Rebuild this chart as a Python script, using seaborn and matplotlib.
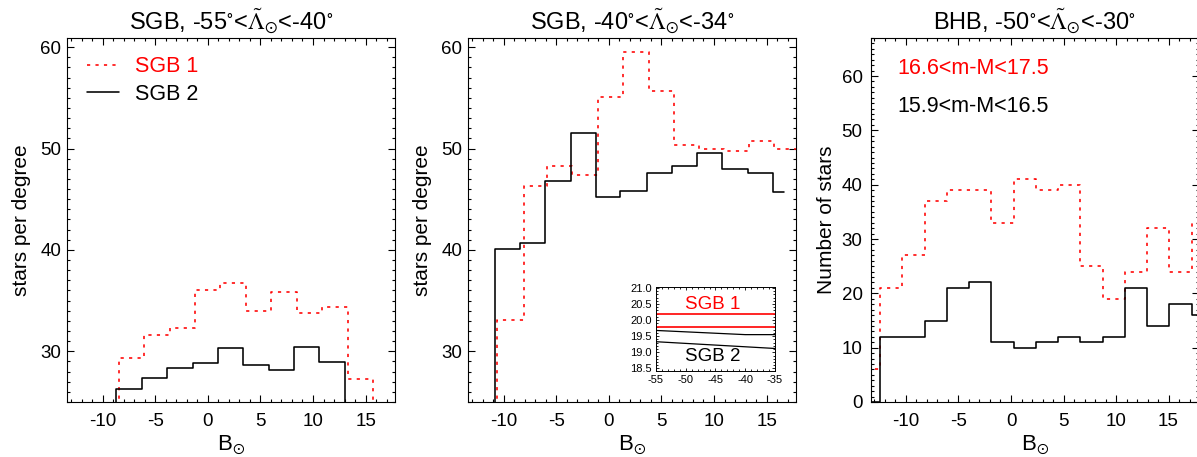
import numpy as np
import pandas as pd
import matplotlib
matplotlib.use('Agg')
import matplotlib.pyplot as plt
from matplotlib.ticker import MultipleLocator
import seaborn as sns

sns.set_theme(style='ticks')
plt.rcParams['font.family'] = ['Liberation Sans', 'DejaVu Sans']
plt.rcParams['mathtext.fontset'] = 'stix'
plt.rcParams['axes.unicode_minus'] = False
plt.rcParams['text.color'] = 'black'
plt.rcParams['axes.labelcolor'] = 'black'
plt.rcParams['xtick.color'] = 'black'
plt.rcParams['ytick.color'] = 'black'

# panel 1: SGB, -55 < Lambda < -40  (histogram edges / values incl. out-of-range neighbours)
p1_black_edges = [-11.1, -8.7, -6.25, -3.85, -1.45, 0.95, 3.35, 5.8, 8.2, 10.6, 13.05, 15.45]
p1_black_vals = [0, 26.3, 27.4, 28.4, 28.8, 30.3, 28.6, 28.2, 30.4, 28.9, 0]
p1_red_edges = [-10.9, -8.5, -6.05, -3.65, -1.2, 1.2, 3.65, 6.05, 8.5, 10.9, 13.35, 15.75, 18.2]
p1_red_vals = [0, 29.3, 31.6, 32.3, 36.0, 36.7, 34.0, 35.8, 33.8, 34.4, 27.3, 0]

# panel 2: SGB, -40 < Lambda < -34
p2_black_edges = [-13.3, -10.86, -8.45, -6.1, -3.6, -1.2, 1.1, 3.6, 6.0, 8.4, 10.8, 13.2, 15.6, 16.7]
p2_black_vals = [0, 40.1, 40.7, 46.8, 51.5, 45.2, 45.8, 47.6, 48.3, 49.6, 48.0, 47.6, 45.7]
p2_red_edges = [-13.0, -10.6, -8.1, -5.84, -3.46, -1.01, 1.37, 3.84, 6.22, 8.6, 10.98, 13.36, 15.75, 18.2]
p2_red_vals = [0, 33.1, 46.3, 48.3, 47.4, 55.1, 59.5, 55.7, 50.3, 50.0, 49.8, 50.7, 50.0]

# panel 3: BHB, -50 < Lambda < -30
p3_edges = [-14.59, -12.47, -10.35, -8.23, -6.11, -3.99, -1.87, 0.25, 2.37, 4.49,
            6.61, 8.73, 10.85, 12.97, 15.09, 17.21, 19.33]
p3_black_vals = [0, 12, 12, 15, 21, 22, 11, 10, 11, 12, 11, 12, 21, 14, 18, 16]
p3_red_vals = [6, 21, 27, 37, 39, 39, 33, 41, 39, 40, 25, 19, 24, 32, 24, 33]

# inset: distance modulus vs Lambda
inset_lam = [-55, -35]
inset_red_hi = [20.2, 20.2]
inset_red_lo = [19.78, 19.78]
inset_blk_hi_lam = [-55, -40, -35]
inset_blk_hi = [19.68, 19.55, 19.55]
inset_blk_lo = [19.33, 19.12]

RED = '#ff0000'
DOT = (0, (2, 3.3))
TITLE_FS = 17


def step_df(edges, vals):
    return pd.DataFrame({'x': edges, 'y': list(vals) + [vals[-1]]})


def draw_step(ax, edges, vals, color, ls='-', label=None):
    sns.lineplot(data=step_df(edges, vals), x='x', y='y', ax=ax, color=color,
                 linestyle=ls, linewidth=1.15, drawstyle='steps-post',
                 estimator=None, sort=False, label=label)


def style_axes(ax, ymajor, yminor, ypad=4):
    ax.xaxis.set_major_locator(MultipleLocator(5))
    ax.xaxis.set_minor_locator(MultipleLocator(1))
    ax.yaxis.set_major_locator(MultipleLocator(ymajor))
    ax.yaxis.set_minor_locator(MultipleLocator(yminor))
    ax.tick_params(which='both', direction='in', top=True, right=True, width=0.8, colors='black')
    ax.tick_params(which='major', length=5)
    ax.tick_params(which='minor', length=2.5)
    ax.tick_params(axis='x', labelsize=13.5, pad=8)
    ax.tick_params(axis='y', labelsize=13.5, pad=ypad)
    for s in ax.spines.values():
        s.set_linewidth(0.8)
        s.set_color('black')
        s.set_visible(True)
    ax.set_xlabel(r'B$_{\odot}$', fontsize=16, labelpad=2)


W, H = 1197, 457
fig = plt.figure(figsize=(W / 100, H / 100), dpi=100)
bottom = (H - 402) / H
height = 364 / H
width = 328 / W
ax1 = fig.add_axes([67 / W, bottom, width, height])
ax2 = fig.add_axes([468 / W, bottom, width, height])
ax3 = fig.add_axes([871 / W, bottom, width, height])

xlim = (-13.4, 17.8)

# panel 1
draw_step(ax1, p1_red_edges, p1_red_vals, RED, DOT, label='SGB 1')
draw_step(ax1, p1_black_edges, p1_black_vals, 'black', '-', label='SGB 2')
ax1.set_xlim(*xlim)
ax1.set_ylim(25, 60.9)
style_axes(ax1, 10, 1)
ax1.set_ylabel('stars per degree', fontsize=15, labelpad=7)
ax1.set_title(r'SGB, -55$^{\circ}$<$\tilde{\Lambda}_{\odot}$<-40$^{\circ}$', fontsize=TITLE_FS, pad=6)
leg = ax1.legend(loc='upper left', bbox_to_anchor=(0.06, 0.95), frameon=False, fontsize=15.5,
                 handlelength=1.5, handletextpad=0.75, labelspacing=0.3, borderpad=0,
                 borderaxespad=0, labelcolor='linecolor')

# panel 2
draw_step(ax2, p2_red_edges, p2_red_vals, RED, DOT)
draw_step(ax2, p2_black_edges, p2_black_vals, 'black', '-')
ax2.set_xlim(*xlim)
ax2.set_ylim(25, 60.9)
style_axes(ax2, 10, 1)
ax2.set_ylabel('stars per degree', fontsize=15, labelpad=7)
ax2.set_title(r'SGB, -40$^{\circ}$<$\tilde{\Lambda}_{\odot}$<-34$^{\circ}$', fontsize=TITLE_FS, pad=6)

# inset
axi = fig.add_axes([656 / W, (H - 371) / H, 119 / W, 84 / H])
sns.lineplot(x=inset_lam, y=inset_red_hi, ax=axi, color=RED, linewidth=1.2)
sns.lineplot(x=inset_lam, y=inset_red_lo, ax=axi, color=RED, linewidth=1.2)
sns.lineplot(x=inset_blk_hi_lam, y=inset_blk_hi, ax=axi, color='black', linewidth=0.9)
sns.lineplot(x=inset_lam, y=inset_blk_lo, ax=axi, color='black', linewidth=0.9)
axi.set_xlim(-55, -35)
axi.set_ylim(18.42, 21.03)
axi.xaxis.set_major_locator(MultipleLocator(5))
axi.xaxis.set_minor_locator(MultipleLocator(1))
axi.yaxis.set_major_locator(MultipleLocator(0.5))
axi.yaxis.set_minor_locator(MultipleLocator(0.1))
axi.yaxis.set_major_formatter(matplotlib.ticker.FormatStrFormatter('%.1f'))
axi.tick_params(which='both', direction='in', top=True, right=True, width=0.6, labelsize=8, pad=3)
axi.tick_params(which='major', length=2.5)
axi.tick_params(which='minor', length=1.2)
for s in axi.spines.values():
    s.set_linewidth(0.7)
    s.set_color('black')
axi.text(-45.4, 20.48, 'SGB 1', color=RED, fontsize=13.5, ha='center', va='center')
axi.text(-45.4, 18.86, 'SGB 2', color='black', fontsize=13.5, ha='center', va='center')

# panel 3
draw_step(ax3, p3_edges, p3_red_vals, RED, DOT)
draw_step(ax3, p3_edges, p3_black_vals, 'black', '-')
ax3.set_xlim(-13.33, 17.9)
ax3.set_ylim(0, 67)
style_axes(ax3, 10, 1, ypad=6)
ax3.set_ylabel('Number of stars', fontsize=15, labelpad=4)
ax3.set_title(r'BHB, -50$^{\circ}$<$\tilde{\Lambda}_{\odot}$<-30$^{\circ}$', fontsize=TITLE_FS, pad=6)
ax3.text(0.08, 0.915, '16.6<m-M<17.5', color=RED, fontsize=15.5, transform=ax3.transAxes, va='center')
ax3.text(0.08, 0.813, '15.9<m-M<16.5', color='black', fontsize=15.5, transform=ax3.transAxes, va='center')

fig.savefig('out.png', dpi=100)
